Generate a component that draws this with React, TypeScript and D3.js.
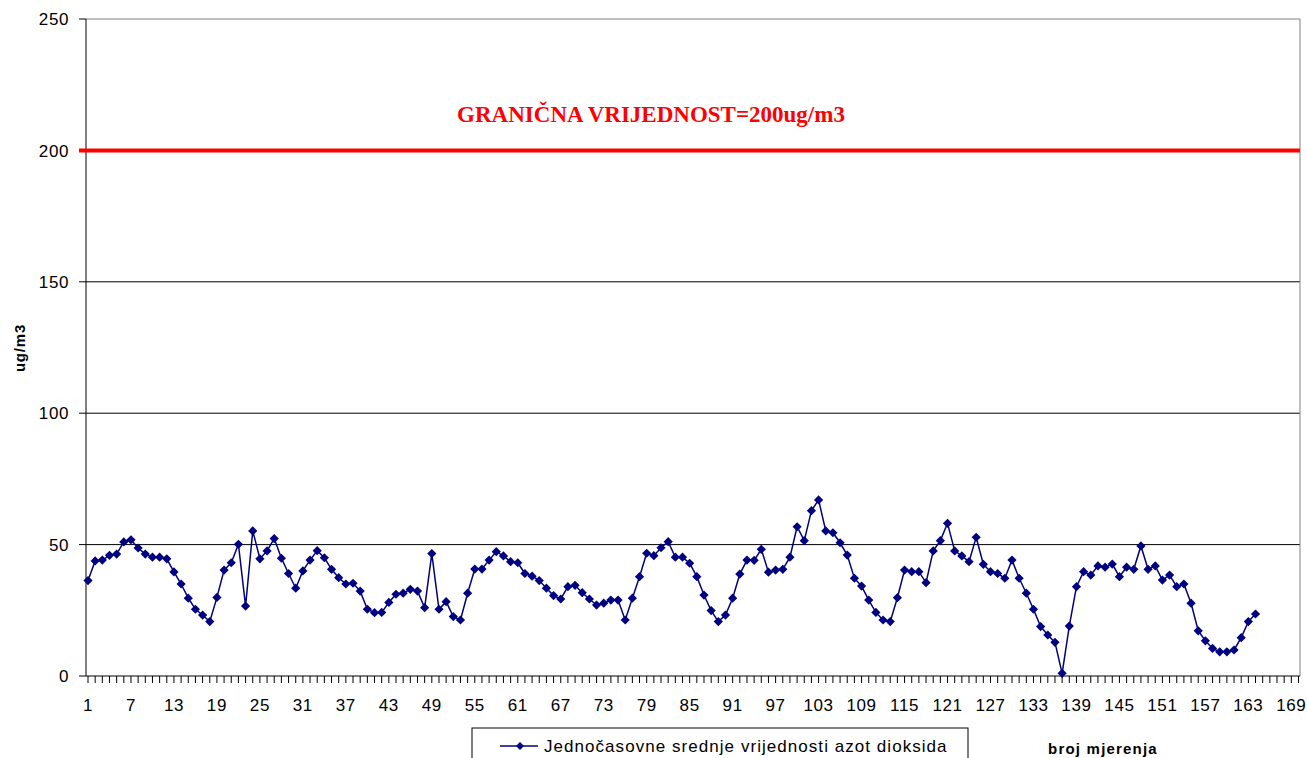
import React from "react";
import * as d3 from "d3";

const values: number[] = [
  36.3, 43.8, 44.1, 45.9, 46.4, 51, 51.8, 48.7, 46.4, 45.2,
  45.2, 44.6, 39.6, 35, 29.6, 25.4, 23.2, 20.7, 29.9, 40.3,
  43.1, 50.1, 26.6, 55.2, 44.6, 47.6, 52.3, 44.8, 39, 33.4,
  40, 44.1, 47.7, 45, 40.6, 37.4, 35, 35.3, 32.3, 25.4,
  24.1, 24.2, 28, 31.1, 31.5, 33, 32.3, 26, 46.6, 25.4,
  28.3, 22.6, 21.3, 31.5, 40.7, 40.7, 44.1, 47.3, 45.7, 43.5,
  43.1, 39, 38, 36.3, 33.4, 30.6, 29.3, 34, 34.5, 31.7,
  29.3, 27, 27.7, 28.9, 28.9, 21.3, 29.6, 37.8, 46.7, 45.8,
  48.8, 51.1, 45.2, 45.2, 42.9, 37.8, 30.8, 24.9, 20.7, 23.2,
  29.6, 38.8, 44.1, 44, 48.2, 39.5, 40.3, 40.6, 45.2, 56.8,
  51.5, 62.9, 67, 55.2, 54.5, 50.7, 46, 37.2, 34.2, 28.9,
  24.2, 21.3, 20.7, 29.8, 40.3, 39.7, 39.7, 35.5, 47.6, 51.5,
  58.1, 47.6, 45.7, 43.5, 52.8, 42.5, 39.7, 39, 37.2, 44.1,
  37.2, 31.5, 25.4, 18.8, 15.6, 12.8, 1, 19, 34, 39.7,
  38.4, 41.9, 41.4, 42.6, 37.8, 41.4, 40.6, 49.5, 40.6, 41.9,
  36.5, 38.4, 34, 35, 27.7, 17.2, 13.4, 10.5, 9.2, 9.2,
  9.9, 14.6, 20.7, 23.6,
];

const categoryCount = 170;
const xTickLabels: number[] = d3.range(1, 170, 6);
const yTicks: number[] = [0, 50, 100, 150, 200, 250];
const limitValue = 200;
const limitLabel = "GRANIČNA VRIJEDNOST=200ug/m3";
const seriesName = "Jednočasovne srednje vrijednosti azot dioksida";
const yTitle = "ug/m3";
const xTitle = "broj mjerenja";

export default function App() {
  const plotLeft = 86;
  const plotRight = 1300;
  const x = d3.scaleLinear().domain([1, categoryCount]).range([88, 1298.5]);
  const y = d3.scaleLinear().domain([0, 250]).range([676, 19]);
  const line = d3
    .line<number>()
    .x((_, i) => x(i + 1))
    .y((d) => y(d));
  const diamond = (cx: number, cy: number, r = 4.6) =>
    `M${cx},${cy - r}L${cx + r},${cy}L${cx},${cy + r}L${cx - r},${cy}Z`;
  const font = "Arial, 'Liberation Sans', sans-serif";

  return (
    <svg
      width={1308}
      height={758}
      style={{ position: "absolute", left: 0, top: 0, background: "#fff" }}
    >
      <rect x={0} y={0} width={1308} height={758} fill="#fff" />
      {yTicks
        .filter((t) => t > 0 && t < 250)
        .map((t) => (
          <line key={t} x1={plotLeft} x2={plotRight} y1={y(t)} y2={y(t)} stroke="#000" strokeWidth={1} />
        ))}
      <line x1={plotLeft} x2={plotRight} y1={y(250)} y2={y(250)} stroke="#808080" strokeWidth={1} />
      <line x1={plotRight} x2={plotRight} y1={y(250)} y2={y(0)} stroke="#808080" strokeWidth={1} />
      <line x1={plotLeft} x2={plotLeft} y1={y(250)} y2={y(0)} stroke="#000" strokeWidth={1} />
      {yTicks.map((t) => (
        <g key={t}>
          <line x1={79} x2={plotLeft} y1={y(t)} y2={y(t)} stroke="#000" strokeWidth={1} />
          <text
            x={69}
            y={y(t)}
            dy="0.36em"
            textAnchor="end"
            fontFamily={font}
            fontSize={17}
            letterSpacing={0.6}
            fill="#000"
          >
            {t}
          </text>
        </g>
      ))}
      <line x1={plotLeft} x2={plotRight} y1={y(0)} y2={y(0)} stroke="#000" strokeWidth={1} />
      {d3.range(1, categoryCount + 1).map((c) => (
        <line key={c} x1={x(c)} x2={x(c)} y1={y(0)} y2={y(0) + 7} stroke="#000" strokeWidth={1} />
      ))}
      {xTickLabels.map((c) => (
        <text
          key={c}
          x={x(c)}
          y={711}
          textAnchor="middle"
          fontFamily={font}
          fontSize={17}
          letterSpacing={0.6}
          fill="#000"
        >
          {c}
        </text>
      ))}
      <line x1={79} x2={plotRight} y1={y(limitValue)} y2={y(limitValue)} stroke="#ff0000" strokeWidth={4} />
      <text
        x={651}
        y={122}
        textAnchor="middle"
        fontFamily="'Times New Roman', 'Liberation Serif', serif"
        fontWeight="bold"
        fontSize={23}
        fill="#ff0000"
      >
        {limitLabel}
      </text>
      <path d={line(values) || ""} fill="none" stroke="#000080" strokeWidth={1.5} />
      {values.map((v, i) => (
        <path key={i} d={diamond(x(i + 1), y(v))} fill="#000080" />
      ))}
      <text
        transform={`translate(25,348) rotate(-90)`}
        textAnchor="middle"
        fontFamily={font}
        fontWeight="bold"
        fontSize={15}
        letterSpacing={0.8}
        fill="#000"
      >
        {yTitle}
      </text>
      <text
        x={1103}
        y={754}
        textAnchor="middle"
        fontFamily={font}
        fontWeight="bold"
        fontSize={15}
        letterSpacing={1.2}
        fill="#000"
      >
        {xTitle}
      </text>
      <rect x={472} y={728} width={496} height={60} fill="none" stroke="#000" strokeWidth={1} />
      <line x1={500} x2={538} y1={746} y2={746} stroke="#000080" strokeWidth={1.5} />
      <path d={diamond(520, 746, 4)} fill="#000080" />
      <text
        x={544}
        y={752}
        fontFamily={font}
        fontSize={17}
        letterSpacing={1.05}
        fill="#000"
      >
        {seriesName}
      </text>
    </svg>
  );
}
